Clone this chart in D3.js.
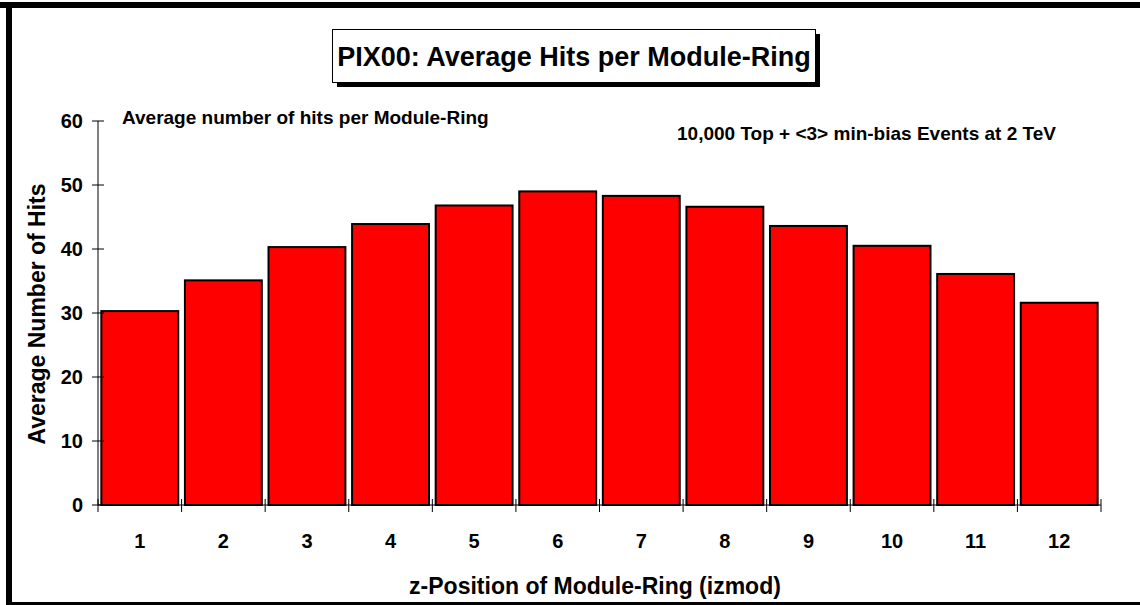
<!DOCTYPE html>
<html>
<head>
<meta charset="utf-8">
<script src="https://cdn.jsdelivr.net/npm/d3@7/dist/d3.min.js"></script>
<style>
  html, body { margin: 0; padding: 0; background: #fff; }
  svg { display: block; }
  text { font-family: "Liberation Sans", Arial, sans-serif; font-weight: bold; fill: #000; }
</style>
</head>
<body>
<svg id="chart" width="1140" height="605"></svg>
<script>
const categories = ["1","2","3","4","5","6","7","8","9","10","11","12"];
const hits = [30.3, 35.1, 40.3, 43.9, 46.8, 49.0, 48.3, 46.6, 43.6, 40.5, 36.1, 31.6];
const yTicks = [0, 10, 20, 30, 40, 50, 60];
const titleText = "PIX00: Average Hits per Module-Ring";
const subtitleText = "Average number of hits per Module-Ring";
const noteText = "10,000 Top + <3> min-bias Events at 2 TeV";
const xTitle = "z-Position of Module-Ring (izmod)";
const yTitle = "Average Number of Hits";

const svg = d3.select("#chart");

// outer frame
svg.append("rect").attr("x", 0).attr("y", 2).attr("width", 1140).attr("height", 6).attr("fill", "#000");
svg.append("rect").attr("x", 6).attr("y", 2).attr("width", 6).attr("height", 603).attr("fill", "#000");
svg.append("rect").attr("x", 6).attr("y", 602).attr("width", 1134).attr("height", 3).attr("fill", "#000");

const x = d3.scaleBand().domain(categories).range([98, 1101]).paddingInner(0.08).paddingOuter(0.04);
const y = d3.scaleLinear().domain([0, 60]).range([505, 121]);

// bars
svg.append("g").selectAll("rect").data(hits).join("rect")
  .attr("x", (d, i) => x(categories[i]))
  .attr("y", d => y(d))
  .attr("width", x.bandwidth())
  .attr("height", d => y(0) - y(d))
  .attr("fill", "#ff0000")
  .attr("stroke", "#000")
  .attr("stroke-width", 2);

// y axis
const yAxis = svg.append("g");
yAxis.append("line").attr("x1", 98).attr("x2", 98).attr("y1", y(60)).attr("y2", y(0)).attr("stroke", "#000").attr("stroke-width", 1);
yAxis.selectAll("line.tick").data(yTicks).join("line").attr("class", "tick")
  .attr("x1", 92).attr("x2", 104).attr("y1", d => y(d)).attr("y2", d => y(d))
  .attr("stroke", "#000").attr("stroke-width", 1);
yAxis.selectAll("text").data(yTicks).join("text")
  .attr("x", 83).attr("y", d => y(d)).attr("dy", "0.36em")
  .attr("text-anchor", "end").attr("font-size", 20).text(d => d);

// x axis
const xAxis = svg.append("g");
xAxis.append("line").attr("x1", 98).attr("x2", 1101).attr("y1", y(0)).attr("y2", y(0)).attr("stroke", "#000").attr("stroke-width", 1);
const step = x.step();
const bounds = d3.range(categories.length + 1).map(i => 98 + i * step);
xAxis.selectAll("line.tick").data(bounds).join("line").attr("class", "tick")
  .attr("x1", d => d).attr("x2", d => d).attr("y1", y(0) - 6).attr("y2", y(0) + 7)
  .attr("stroke", "#000").attr("stroke-width", 1);
xAxis.selectAll("text").data(categories).join("text")
  .attr("x", d => x(d) + x.bandwidth() / 2).attr("y", 548)
  .attr("text-anchor", "middle").attr("font-size", 20).text(d => d);

// axis titles
svg.append("text").attr("x", 595).attr("y", 594).attr("text-anchor", "middle").attr("font-size", 23).text(xTitle);
svg.append("text").attr("transform", "translate(45,314) rotate(-90)").attr("text-anchor", "middle").attr("font-size", 23).text(yTitle);

// title box
svg.append("rect").attr("x", 337).attr("y", 34).attr("width", 483).attr("height", 53).attr("fill", "#000");
svg.append("rect").attr("x", 332.5).attr("y", 29.5).attr("width", 483).attr("height", 53).attr("fill", "#fff").attr("stroke", "#000").attr("stroke-width", 1);
svg.append("text").attr("x", 574).attr("y", 66).attr("text-anchor", "middle").attr("font-size", 27).text(titleText);

// annotations
svg.append("text").attr("x", 122).attr("y", 124).attr("font-size", 19).text(subtitleText);
svg.append("text").attr("x", 677).attr("y", 140).attr("font-size", 19).text(noteText);
</script>
</body>
</html>
